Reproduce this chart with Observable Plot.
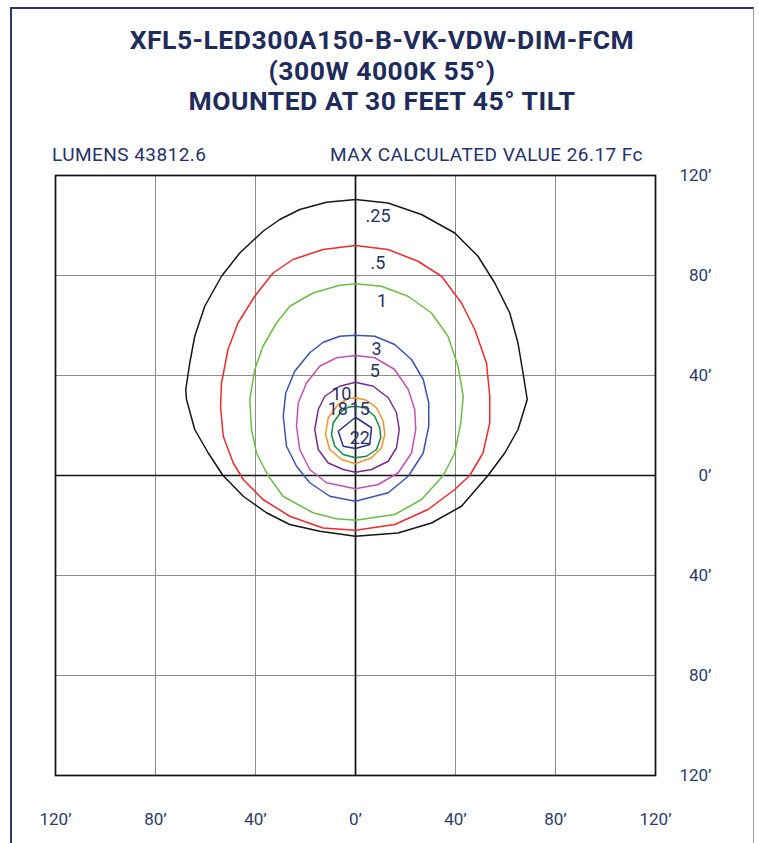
<!DOCTYPE html>
<html><head><meta charset="utf-8">
<script src="https://cdn.jsdelivr.net/npm/d3@7"></script>
<script src="https://cdn.jsdelivr.net/npm/@observablehq/plot@0.6"></script>
<style>
html,body{margin:0;padding:0;background:#fff;}
body{width:759px;height:843px;overflow:hidden;position:relative;font-family:Roboto,"Noto Sans",sans-serif;}
#box{position:absolute;left:10px;top:7px;width:741px;height:900px;border-left:2px solid #2b3768;border-top:2px solid #2b3768;border-right:1.5px solid #9a9a9a;}
#title{position:absolute;left:10px;width:744px;top:25px;text-align:center;font-weight:700;font-size:26.5px;letter-spacing:0.5px;line-height:30.5px;color:#1f2b5b;}
.sub{position:absolute;top:144px;font-size:19px;letter-spacing:0.45px;line-height:22px;color:#26326a;white-space:nowrap;}
#chart{position:absolute;left:0;top:150px;}
</style></head>
<body>
<div id="box"></div>
<div id="title">XFL5-LED300A150-B-VK-VDW-DIM-FCM<br>(300W 4000K 55°)<br>MOUNTED AT 30 FEET 45° TILT</div>
<div class="sub" style="left:52px">LUMENS 43812.6</div>
<div class="sub" style="right:116px">MAX CALCULATED VALUE 26.17 Fc</div>
<div id="chart"></div>
<script>
// ---- data (feet) ----
const ticks = [-120, -80, -40, 0, 40, 80, 120];
const gridLines = [-80, -40, 40, 80];
const levels = [".25", ".5", "1", "3", "5", "10", "15", "18", "22"];

const c025 = [[0,110.4],[13,109],[26.4,104.4],[39.7,97],[49,87.7],[55.7,77],[61.7,65],[65,53],[67,41],[68.7,30.4],[65,18.4],[59.7,9],[53,0],[42.4,-12.3],[30.4,-19],[17,-23],[0,-24.3],
  [-14.3,-22.3],[-26.3,-19.6],[-35.6,-14.9],[-44.9,-8.3],[-53,0],[-58.9,9],[-64.3,18.4],[-67.6,30.4],[-67.9,34.4],[-66.3,45],[-64.3,55.7],[-60.3,67.7],[-53.6,79.7],[-46.3,89],[-37,97.7],[-30.3,102.4],[-22.3,106.4],[-11.6,109.3],[0,110.4]];
const c05 = [[0,92],[13,90.4],[25,85.7],[34.4,79.7],[42.4,69],[47.7,58.4],[52.4,45],[53.7,31.7],[53.7,21],[51,9],[45.7,0],[39.7,-5.6],[29,-13.6],[15.7,-19.6],[0,-21.9],
  [-13,-21],[-26.3,-16.3],[-37,-9.6],[-44.9,-1.6],[-48.9,5],[-52.9,15.7],[-54,27.7],[-53.6,37],[-51,50.4],[-47,61],[-40.3,71.7],[-33,81],[-25,86.4],[-13,90.4],[0,92]];
const c1 = [[0,76.7],[10.4,75.7],[21,71.7],[30.4,65],[37,55.7],[41,43.7],[43.1,31.7],[42.1,21],[39.7,9],[35.1,0],[26.4,-9.6],[15.7,-15.6],[0,-17.9],
  [-7.6,-17.3],[-17,-14.9],[-29,-8.3],[-35,0],[-39.6,9],[-41.6,18.4],[-42.3,30.4],[-40.3,42.4],[-37,51.7],[-31.6,61],[-26.3,67.7],[-17,73],[-6.3,76.1],[0,76.7]];
const c3 = [[0,56.1],[7.7,55.7],[15.7,52.4],[22.4,46.4],[27.1,38.4],[29.3,29],[29.3,19.7],[27.1,9],[21.1,-0.3],[13.1,-6.9],[0,-10.3],
  [-10.3,-8.3],[-18.3,-2.9],[-23.6,3.7],[-27.6,11.7],[-28.9,23.7],[-27.9,33],[-24.3,41.7],[-18.3,49.1],[-12.9,53.3],[-6.3,55.7],[0,56.1]];
const c5 = [[0,48],[7.7,47.1],[15.7,42.4],[21.1,34.4],[23.7,26.4],[24.1,18.4],[22.4,9],[17.1,1.1],[9.1,-3.6],[0,-5.3],
  [-11.6,-2.9],[-18.3,2.4],[-22.3,10.4],[-23.6,19.7],[-22.9,29],[-19.6,37],[-14.3,43.7],[-7.6,47.1],[0,48]];
const c10 = [[0,37.3],[7.1,35.7],[13.1,31.1],[16.4,25.1],[17.5,18.4],[16.4,11.1],[13.1,5.7],[6.4,2.4],[0,1.3],
  [-4.9,2.4],[-10.9,5],[-14.9,10.4],[-16.3,18.4],[-14.9,26.4],[-12.3,31.7],[-6.3,35.7],[0,37.3]];
const c15 = [[0,31.1],[4.4,30.1],[8.4,27.1],[11.1,21.7],[11.7,16.4],[10.4,11.1],[6.4,7.1],[0,4.7],[-5.6,6.4],[-10.3,10.4],[-12,16.4],[-10.9,23.1],[-6.9,28.4],[-2.9,30.8],[0,31.1]];
const c18 = [[0,27.7],[3.7,27.1],[7.7,23.7],[9.7,19.1],[10.1,15.1],[8.4,10.4],[4.4,7.7],[0,7.1],[-4.9,8.4],[-8.3,11.7],[-9.6,16.4],[-8.9,21.1],[-5.6,25.7],[-2.9,27.3],[0,27.7]];
const c22 = [[0,23.3],[6.4,19.1],[5.7,12.4],[0,10.8],[-4.9,11.7],[-6.9,17.7],[0,23.3]];

const labelText = [".25", ".5", "1", "3", "5", "10", "18", "15", "22"];
const labelX = [9, 9, 10.6, 8.4, 7.7, -5.7, -7.1, 1.7, 1.7];
const labelY = [103.7, 85, 69.7, 50.7, 41.7, 32.4, 26.4, 26.4, 15.1];

// ---- styles ----
const contours = [c025, c05, c1, c3, c5, c10, c15, c18, c22];
const colors = ["#161616", "#ee2a2e", "#6cbd45", "#3c52b2", "#c152b2", "#7a2b8d", "#f39224", "#14894a", "#2b3088"];

const labels = labelText.map((t, i) => ({t, x: labelX[i], y: labelY[i]}));
const fmt = d => Math.abs(d) + "’";

const plot = Plot.plot({
  width: 759, height: 693,
  marginLeft: 55, marginRight: 104, marginTop: 25, marginBottom: 68,
  x: {domain: [-120, 120], label: null},
  y: {domain: [-120, 120], label: null},
  style: {fontFamily: "Roboto, sans-serif", background: "transparent"},
  marks: [
    Plot.ruleX(gridLines, {stroke: "#8c8c8c", strokeWidth: 1}),
    Plot.ruleY(gridLines, {stroke: "#8c8c8c", strokeWidth: 1}),
    Plot.ruleX([0], {stroke: "#111", strokeWidth: 1.7}),
    Plot.ruleY([0], {stroke: "#111", strokeWidth: 1.7}),
    ...contours.map((c, i) => Plot.line(c, {x: d => d[0], y: d => d[1], stroke: colors[i], strokeWidth: 1.5, curve: "linear"})),
    Plot.text(labels, {x: "x", y: "y", text: "t", fontSize: 18, fill: "#2a3262"}),
    Plot.frame({stroke: "#111", strokeWidth: 1.7}),
    Plot.axisX(ticks, {anchor: "bottom", label: null, tickSize: 0, tickPadding: 37, tickFormat: fmt, fontSize: 17, fill: "#2b3a6a"}),
    Plot.axisY(ticks, {anchor: "right", label: null, tickSize: 0, tickPadding: 56, textAnchor: "end", tickFormat: fmt, fontSize: 17, fill: "#2b3a6a"})
  ]
});
document.getElementById("chart").appendChild(plot);
</script>
</body></html>
